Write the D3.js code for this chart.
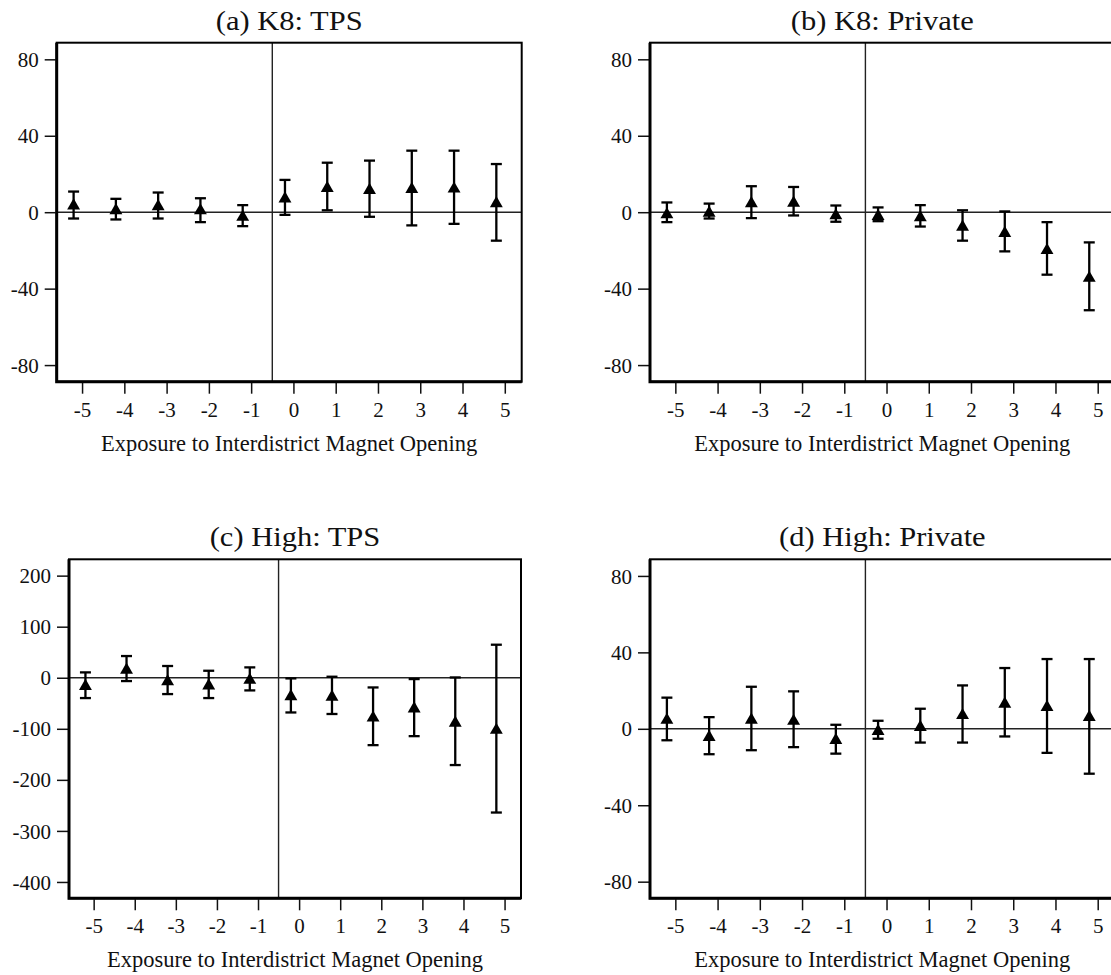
<!DOCTYPE html>
<html>
<head>
<meta charset="utf-8">
<script src="https://cdn.jsdelivr.net/npm/d3@7"></script>
<style>
  body { margin: 0; background: #fff; }
  svg { display: block; }
  text { font-family: "Liberation Serif", "Times New Roman", serif; fill: #111; }
</style>
</head>
<body>
<svg id="chart" width="1111" height="975"></svg>
<script>
// ---- data ----
const years = [-5, -4, -3, -2, -1, 0, 1, 2, 3, 4, 5];
const xTickLabels = ["-5", "-4", "-3", "-2", "-1", "0", "1", "2", "3", "4", "5"];
const panelTitles = ["(a) K8: TPS", "(b) K8: Private", "(c) High: TPS", "(d) High: Private"];
const xAxisLabel = "Exposure to Interdistrict Magnet Opening";

const k8TpsEst = [4.4, 1.9, 4.0, 1.8, -1.6, 8.0, 13.5, 12.5, 13.0, 13.2, 5.5];
const k8TpsLo  = [-3.3, -3.8, -3.3, -5.2, -7.3, -1.4, 1.0, -2.4, -6.9, -6.1, -14.9];
const k8TpsHi  = [10.8, 7.0, 10.3, 7.3, 3.7, 16.9, 25.9, 27.0, 32.2, 32.2, 25.2];

const k8PrivEst = [-0.3, 0.6, 5.5, 5.8, -0.8, -1.1, -1.8, -6.8, -10.0, -19.0, -33.5];
const k8PrivLo  = [-5.2, -3.3, -3.1, -1.7, -5.0, -4.7, -7.5, -14.9, -20.5, -32.7, -51.3];
const k8PrivHi  = [5.1, 4.5, 13.6, 13.2, 3.5, 2.5, 3.7, 1.0, 0.4, -5.2, -15.8];

const highTpsEst = [-13, 19, -4, -12, -1, -33, -34, -75, -57, -85, -99];
const highTpsLo  = [-39.8, -6.5, -32, -39.8, -24.8, -68, -71, -132, -114.4, -171, -264];
const highTpsHi  = [10.5, 42.5, 23, 13.7, 20.3, -1.3, 2, -19, -2.6, 0.6, 64.7];

const highPrivEst = [5.5, -3.4, 5.6, 5.0, -5.0, -0.3, 1.8, 8.0, 14.0, 12.3, 7.0];
const highPrivLo  = [-6.0, -13.3, -11.2, -9.6, -13.0, -5.2, -7.2, -7.2, -4.0, -12.6, -23.5];
const highPrivHi  = [16.3, 6.1, 22.0, 19.6, 2.1, 4.2, 10.5, 22.7, 31.8, 36.5, 36.5];

const smallTicks = [-80, -40, 0, 40, 80];
const smallTickLabels = ["-80", "-40", "0", "40", "80"];
const largeTicks = [-400, -300, -200, -100, 0, 100, 200];
const largeTickLabels = ["-400", "-300", "-200", "-100", "0", "100", "200"];
const smallDomain = [-88.7, 88.7];
const largeDomain = [-432, 232];
const xDomain = [-5.6, 5.4];
const pointOffset = -0.2;   // markers sit slightly left of each integer tick
const eventLine = -0.5;

// ---- layout ----
const panels = [
  { title: panelTitles[0], est: k8TpsEst, lo: k8TpsLo, hi: k8TpsHi, ticks: smallTicks, tickLabels: smallTickLabels, domain: smallDomain,
    x0: 56.7, x1: 521.7, y0: 42.7, y1: 381.7 },
  { title: panelTitles[1], est: k8PrivEst, lo: k8PrivLo, hi: k8PrivHi, ticks: smallTicks, tickLabels: smallTickLabels, domain: smallDomain,
    x0: 650, x1: 1114.6, y0: 42.7, y1: 381.7 },
  { title: panelTitles[2], est: highTpsEst, lo: highTpsLo, hi: highTpsHi, ticks: largeTicks, tickLabels: largeTickLabels, domain: largeDomain,
    x0: 69, x1: 521, y0: 559.3, y1: 898.3 },
  { title: panelTitles[3], est: highPrivEst, lo: highPrivLo, hi: highPrivHi, ticks: smallTicks, tickLabels: smallTickLabels, domain: smallDomain,
    x0: 650, x1: 1114.6, y0: 559.3, y1: 898.3 }
];

const svg = d3.select("#chart");
const markerSize = 72;
// d3 triangles are centred on their centroid; shift so the bounding box is centred on the value
const triHeight = 3 * Math.sqrt(markerSize / (3 * Math.sqrt(3)));
const triShift = triHeight / 6;

panels.forEach(p => {
  const x = d3.scaleLinear().domain(xDomain).range([p.x0, p.x1]);
  const y = d3.scaleLinear().domain(p.domain).range([p.y1, p.y0]);
  const g = svg.append("g");

  // title
  g.append("text")
    .attr("transform", `translate(${(p.x0 + p.x1) / 2},${p.y0 - 13}) scale(1.13,1)`)
    .attr("text-anchor", "middle")
    .style("font-size", "27px")
    .text(p.title);

  // reference lines
  g.append("line")
    .attr("x1", p.x0).attr("x2", p.x1)
    .attr("y1", y(0)).attr("y2", y(0))
    .attr("stroke", "#222").attr("stroke-width", 1.4);
  g.append("line")
    .attr("x1", x(eventLine)).attr("x2", x(eventLine))
    .attr("y1", p.y0).attr("y2", p.y1)
    .attr("stroke", "#222").attr("stroke-width", 1.4);

  // y axis
  const yAxis = d3.axisLeft(y).tickValues(p.ticks)
    .tickFormat((d, i) => p.tickLabels[i])
    .tickSize(11).tickPadding(6).tickSizeOuter(0);
  const ya = g.append("g").attr("transform", `translate(${p.x0 - 1},0)`).call(yAxis);
  ya.select(".domain").remove();
  ya.selectAll(".tick line").attr("stroke", "#111").attr("stroke-width", 1.5);
  ya.selectAll(".tick text").style("font-size", "21px").style("font-family", "Liberation Serif").attr("dy", "0.34em");

  // x axis
  const xAxis = d3.axisBottom(x).tickValues(years).tickFormat((d, i) => xTickLabels[i])
    .tickSize(11).tickPadding(8).tickSizeOuter(0);
  const xa = g.append("g").attr("transform", `translate(0,${p.y1 + 1})`).call(xAxis);
  xa.select(".domain").remove();
  xa.selectAll(".tick line").attr("stroke", "#111").attr("stroke-width", 1.5);
  xa.selectAll(".tick text").style("font-size", "21px").style("font-family", "Liberation Serif");

  // x axis label
  g.append("text")
    .attr("x", (p.x0 + p.x1) / 2).attr("y", p.y1 + 69)
    .attr("text-anchor", "middle")
    .style("font-size", "22.5px")
    .text(xAxisLabel);

  // error bars
  const capW = 5.5;
  const bars = g.append("g").attr("stroke", "#000").attr("stroke-width", 2.3).attr("fill", "none");
  years.forEach((yr, i) => {
    const cx = x(yr + pointOffset);
    bars.append("line").attr("x1", cx).attr("x2", cx).attr("y1", y(p.lo[i])).attr("y2", y(p.hi[i]));
    bars.append("line").attr("x1", cx - capW).attr("x2", cx + capW).attr("y1", y(p.lo[i])).attr("y2", y(p.lo[i]));
    bars.append("line").attr("x1", cx - capW).attr("x2", cx + capW).attr("y1", y(p.hi[i])).attr("y2", y(p.hi[i]));
  });

  // markers
  const tri = d3.symbol().type(d3.symbolTriangle).size(markerSize);
  g.append("g").selectAll("path").data(years).join("path")
    .attr("d", tri)
    .attr("transform", (d, i) => `translate(${x(d + pointOffset)},${y(p.est[i]) + triShift})`)
    .attr("fill", "#000");

  // frame
  g.append("rect")
    .attr("x", p.x0).attr("y", p.y0)
    .attr("width", p.x1 - p.x0).attr("height", p.y1 - p.y0)
    .attr("fill", "none").attr("stroke", "#000").attr("stroke-width", 2);
  g.append("path")
    .attr("d", `M${p.x0},${p.y0} V${p.y1} H${p.x1}`)
    .attr("fill", "none").attr("stroke", "#000").attr("stroke-width", 3);
});
</script>
</body>
</html>
